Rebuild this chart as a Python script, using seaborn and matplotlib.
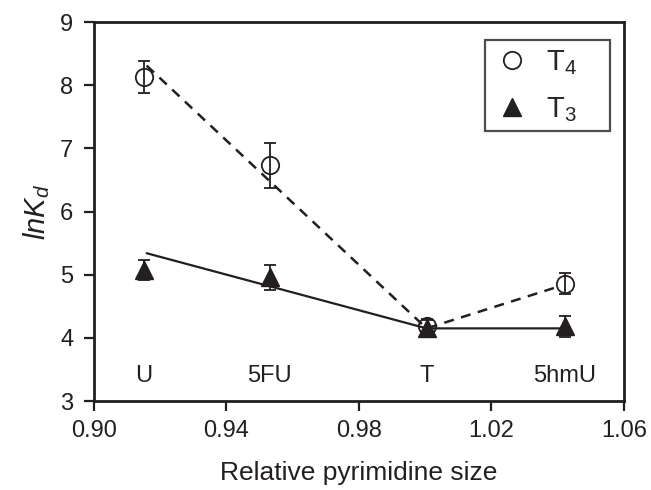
import matplotlib
matplotlib.use("Agg")
import matplotlib.pyplot as plt
import seaborn as sns
import pandas as pd

# data
sizes = [0.915, 0.953, 1.0004, 1.0422]
names = ["U", "5FU", "T", "5hmU"]
t4_vals = [8.13, 6.73, 4.18, 4.86]
t4_err = [0.25, 0.36, 0.12, 0.16]
t3_vals = [5.07, 4.96, 4.16, 4.18]
t3_err = [0.16, 0.20, 0.12, 0.17]

# fitted / connecting lines
t4_line_x = [0.9159, 1.0004, 1.0395]
t4_line_y = [8.31, 4.15, 4.80]
t3_line_x = [0.9159, 1.0004, 1.0422]
t3_line_y = [5.34, 4.15, 4.15]

sns.set_style("ticks")
plt.rcParams["font.family"] = ["Liberation Sans", "DejaVu Sans"]
plt.rcParams["mathtext.fontset"] = "custom"
plt.rcParams["mathtext.rm"] = "Liberation Sans"
plt.rcParams["mathtext.it"] = "Liberation Sans:italic"

ink = "#231f20"
fig = plt.figure(figsize=(6.51, 4.9), dpi=100)
ax = fig.add_axes([0.1444, 0.1816, 0.8141, 0.7734])

sns.lineplot(x=t4_line_x, y=t4_line_y, ax=ax, color=ink, lw=1.8,
             linestyle=(0, (4, 3)), sort=False, zorder=2)
sns.lineplot(x=t3_line_x, y=t3_line_y, ax=ax, color=ink, lw=1.6,
             sort=False, zorder=2)

ax.errorbar(sizes, t4_vals, yerr=t4_err, fmt="none", ecolor=ink,
            elinewidth=1.3, capsize=4, capthick=1.3, zorder=4)
ax.errorbar(sizes, t3_vals, yerr=t3_err, fmt="none", ecolor=ink,
            elinewidth=1.3, capsize=4, capthick=1.3, zorder=4)

ax.plot(sizes, t4_vals, "o", ms=12.5, mfc="none", mec=ink, mew=1.3,
        ls="none", zorder=3, label="T$_4$    ")
ax.plot(sizes, t3_vals, "^", ms=12.5, mfc=ink, mec=ink,
        ls="none", zorder=3, label="T$_3$    ")

for x, n in zip(sizes, names):
    ax.text(x, 3.4, n, ha="center", va="center", fontsize=17, color=ink)

ax.set_xlim(0.90, 1.06)
ax.set_ylim(3, 9)
ax.set_xticks([0.90, 0.94, 0.98, 1.02, 1.06])
ax.set_xticklabels(["0.90", "0.94", "0.98", "1.02", "1.06"])
ax.set_yticks(range(3, 10))
ax.tick_params(labelsize=17, width=1.6, length=7, colors=ink, direction="out")
ax.tick_params(axis="x", pad=7)
ax.tick_params(axis="y", pad=8)
ax.set_xlabel("Relative pyrimidine size", fontsize=19, color=ink, labelpad=13)
ax.set_ylabel("$lnK_d$", fontsize=21, color=ink, labelpad=6)
for s in ax.spines.values():
    s.set_linewidth(2)
    s.set_color(ink)

leg = ax.legend(loc="upper right", bbox_to_anchor=(0.9736, 0.9525),
                borderaxespad=0, fontsize=21, frameon=True, fancybox=False,
                edgecolor=ink, handletextpad=0.5, borderpad=0.27,
                labelspacing=0.62, handlelength=1.3)
leg.get_frame().set_linewidth(1.6)

fig.savefig("out.png", dpi=100)
